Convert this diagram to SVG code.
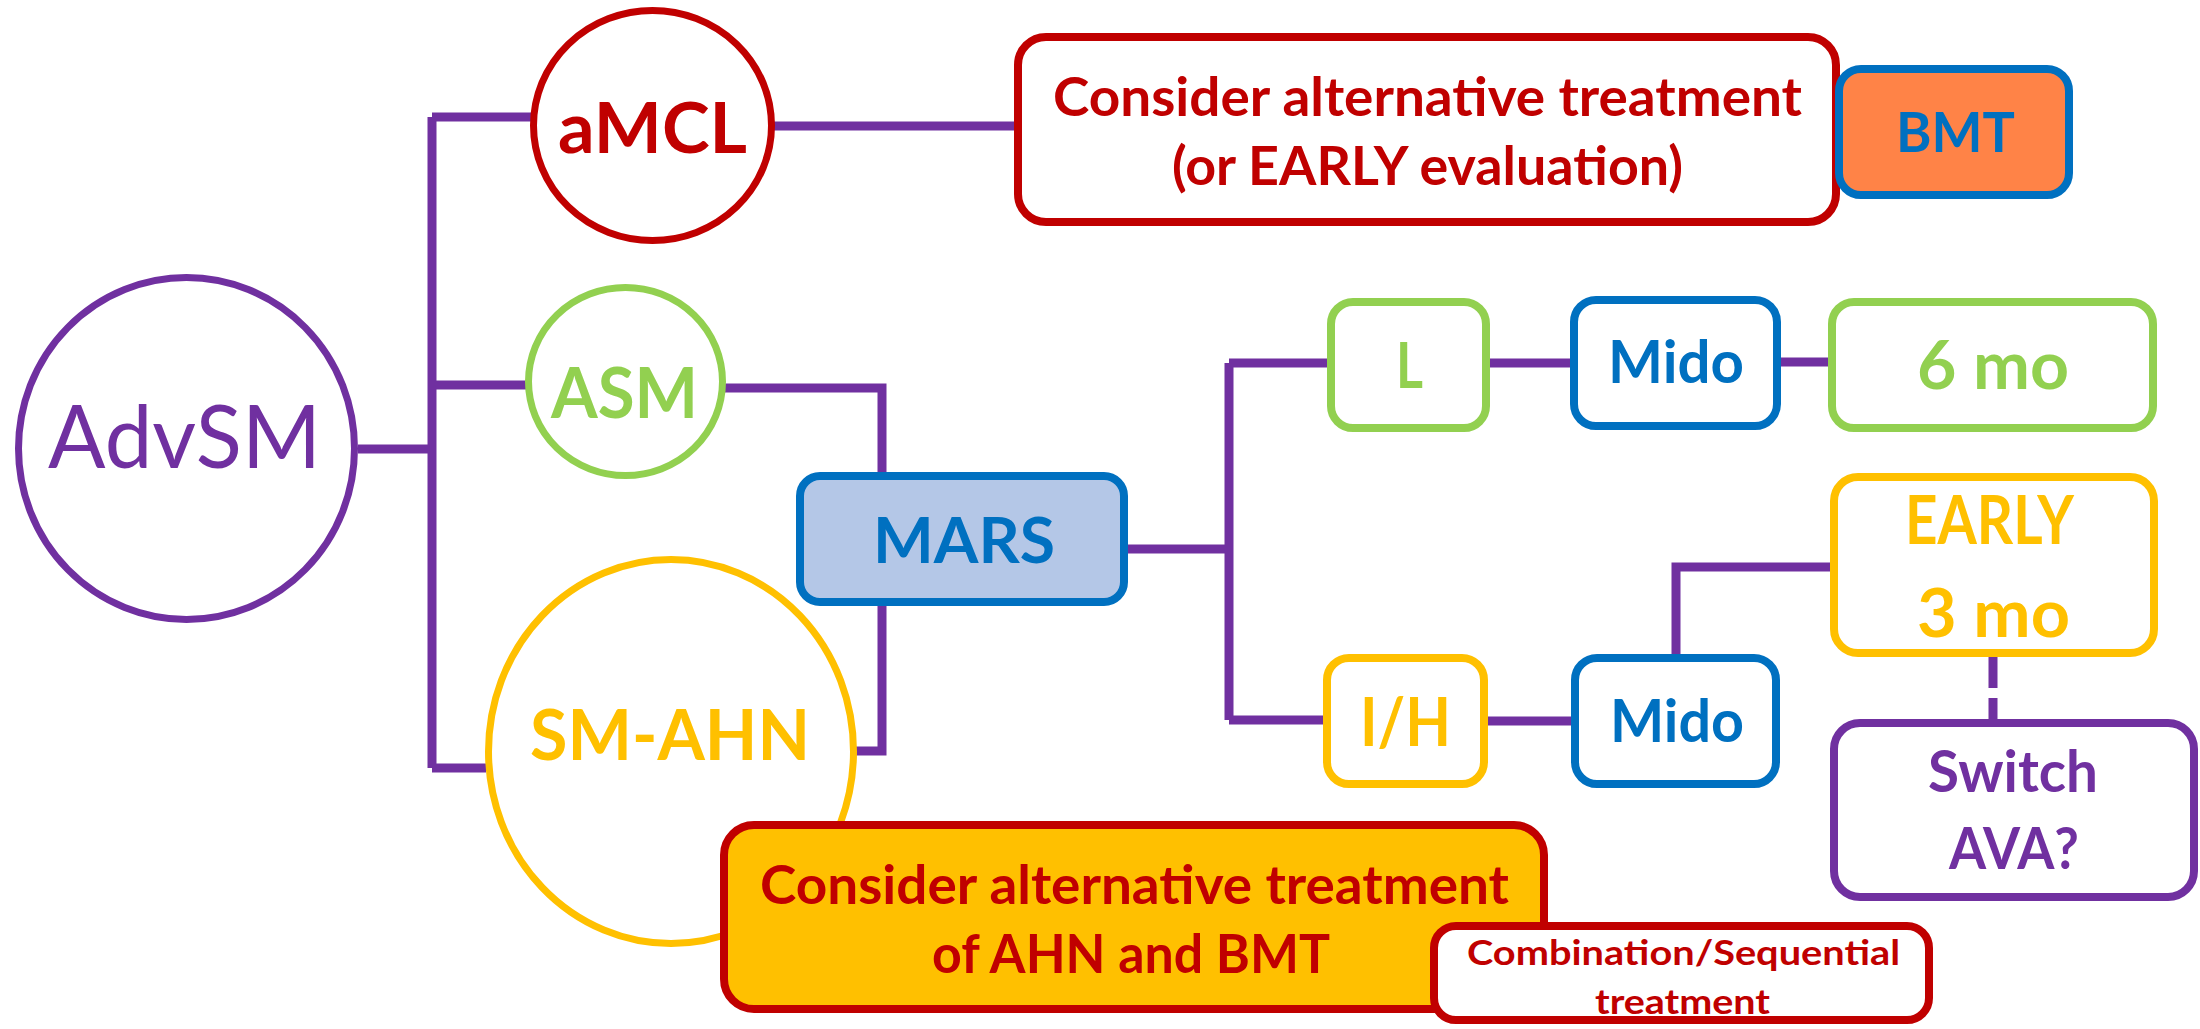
<svg xmlns="http://www.w3.org/2000/svg" width="2200" height="1029" viewBox="0 0 2200 1029">
  <style>
    .bg { fill: #ffffff; }
    .wire { fill: none; stroke: #7030A0; stroke-width: 9; stroke-linecap: butt; stroke-linejoin: miter; }
    .dash { stroke-dasharray: 33 10; }
    .ring { fill: #ffffff; stroke-width: 7; }
    .box { stroke-width: 8; }
    text { font-family: Lato, "Open Sans", "Liberation Sans", sans-serif; font-weight: bold; text-anchor: middle; }
    .purple { stroke: #7030A0; }
    .red { stroke: #C00000; }
    .green { stroke: #92D050; }
    .blue { stroke: #0070C0; }
    .yellow { stroke: #FFC000; }
    .t-purple { fill: #7030A0; }
    .t-red { fill: #C00000; }
    .t-green { fill: #92D050; }
    .t-blue { fill: #0070C0; }
    .t-yellow { fill: #FFC000; }
  </style>

  <rect class="bg" x="0" y="0" width="2200" height="1029"/>

  <!-- connectors -->
  <g id="connectors">
    <path class="wire" d="M432 117 V768"/>
    <path class="wire" d="M432 117 H531"/>
    <path class="wire" d="M358 449 H432"/>
    <path class="wire" d="M432 385 H526"/>
    <path class="wire" d="M432 768 H486"/>
    <path class="wire" d="M774 126 H1016"/>
    <path class="wire" d="M725 388 H882 V474"/>
    <path class="wire" d="M856 751 H882 V604"/>
    <path class="wire" d="M1126 549 H1229"/>
    <path class="wire" d="M1229 363 V720"/>
    <path class="wire" d="M1229 363 H1329"/>
    <path class="wire" d="M1229 720 H1325"/>
    <path class="wire" d="M1488 363 H1572"/>
    <path class="wire" d="M1779 362 H1830"/>
    <path class="wire" d="M1486 721 H1573"/>
    <path class="wire" d="M1676 656 V567 H1832"/>
    <path class="wire dash" d="M1993 655 V721"/>
  </g>

  <!-- nodes -->
  <g id="advsm">
    <ellipse class="ring purple" cx="186.5" cy="448.5" rx="168" ry="171"/>
    <text x="184.5" y="468" font-size="88" font-weight="normal" textLength="273" lengthAdjust="spacingAndGlyphs" class="t-purple" style="font-weight:normal">AdvSM</text>
  </g>

  <g id="amcl">
    <ellipse class="ring red" cx="652.5" cy="125.5" rx="119" ry="115"/>
    <text x="652.5" y="153" font-size="70" textLength="189" lengthAdjust="spacingAndGlyphs" class="t-red">aMCL</text>
  </g>

  <g id="asm">
    <ellipse class="ring green" cx="625.5" cy="381.5" rx="97" ry="94"/>
    <text x="624.5" y="418" font-size="70" textLength="147" lengthAdjust="spacingAndGlyphs" class="t-green">ASM</text>
  </g>

  <g id="sm-ahn">
    <ellipse class="ring yellow" cx="671" cy="751.5" rx="182.5" ry="192"/>
    <text x="670" y="760" font-size="70" textLength="280" lengthAdjust="spacingAndGlyphs" class="t-yellow">SM-AHN</text>
  </g>

  <g id="consider-amcl">
    <rect class="box red" x="1018" y="37" width="818" height="185" rx="28" fill="#ffffff"/>
    <text x="1427.5" y="116" font-size="53" textLength="749" lengthAdjust="spacingAndGlyphs" class="t-red">Consider alternative treatment</text>
    <text x="1427.5" y="185" font-size="53" textLength="511" lengthAdjust="spacingAndGlyphs" class="t-red">(or EARLY evaluation)</text>
  </g>

  <g id="bmt">
    <rect class="box blue" x="1839" y="69" width="230" height="126" rx="22" fill="#FF8347"/>
    <text x="1955.5" y="152" font-size="56" textLength="119" lengthAdjust="spacingAndGlyphs" class="t-blue">BMT</text>
  </g>

  <g id="mars">
    <rect class="box blue" x="800" y="476" width="324" height="126" rx="20" fill="#B4C7E7"/>
    <text x="964" y="563" font-size="64" textLength="182" lengthAdjust="spacingAndGlyphs" class="t-blue">MARS</text>
  </g>

  <g id="low-risk">
    <rect class="box green" x="1331" y="302" width="155" height="126" rx="22" fill="#ffffff"/>
    <text x="1409.5" y="388" font-size="64" textLength="27" lengthAdjust="spacingAndGlyphs" class="t-green">L</text>
  </g>

  <g id="mido-low">
    <rect class="box blue" x="1574" y="300" width="203" height="126" rx="22" fill="#ffffff"/>
    <text x="1676" y="383" font-size="60" textLength="136" lengthAdjust="spacingAndGlyphs" class="t-blue">Mido</text>
  </g>

  <g id="six-months">
    <rect class="box green" x="1832" y="302" width="321" height="126" rx="22" fill="#ffffff"/>
    <text x="1993" y="389" font-size="66" textLength="152" lengthAdjust="spacingAndGlyphs" class="t-green">6 mo</text>
  </g>

  <g id="early">
    <rect class="box yellow" x="1834" y="477" width="320" height="176" rx="24" fill="#ffffff"/>
    <text x="1989.5" y="544" font-size="66" textLength="169" lengthAdjust="spacingAndGlyphs" class="t-yellow">EARLY</text>
    <text x="1993.5" y="637" font-size="66" textLength="153" lengthAdjust="spacingAndGlyphs" class="t-yellow">3 mo</text>
  </g>

  <g id="high-risk">
    <rect class="box yellow" x="1327" y="658" width="157" height="126" rx="22" fill="#ffffff"/>
    <text x="1405.5" y="746" font-size="66" textLength="91" lengthAdjust="spacingAndGlyphs" class="t-yellow">I/H</text>
  </g>

  <g id="mido-high">
    <rect class="box blue" x="1575" y="658" width="201" height="126" rx="22" fill="#ffffff"/>
    <text x="1677" y="742" font-size="60" textLength="134" lengthAdjust="spacingAndGlyphs" class="t-blue">Mido</text>
  </g>

  <g id="switch-ava">
    <rect class="box purple" x="1834" y="723" width="360" height="174" rx="26" fill="#ffffff"/>
    <text x="2013" y="792" font-size="58" textLength="170" lengthAdjust="spacingAndGlyphs" class="t-purple">Switch</text>
    <text x="2014" y="869" font-size="58" textLength="130" lengthAdjust="spacingAndGlyphs" class="t-purple">AVA?</text>
  </g>

  <g id="consider-ahn">
    <rect class="box red" x="724" y="825" width="820" height="184" rx="30" fill="#FFC000"/>
    <text x="1134.5" y="904" font-size="54" textLength="749" lengthAdjust="spacingAndGlyphs" class="t-red">Consider alternative treatment</text>
    <text x="1131" y="973" font-size="54" textLength="398" lengthAdjust="spacingAndGlyphs" class="t-red">of AHN and BMT</text>
  </g>

  <g id="combination">
    <rect class="box red" x="1434" y="926" width="495" height="94" rx="22" fill="#ffffff"/>
    <text x="1683.5" y="965" font-size="35" textLength="433" lengthAdjust="spacingAndGlyphs" class="t-red">Combination/Sequential</text>
    <text x="1682.5" y="1014" font-size="35" textLength="175" lengthAdjust="spacingAndGlyphs" class="t-red">treatment</text>
  </g>
</svg>
